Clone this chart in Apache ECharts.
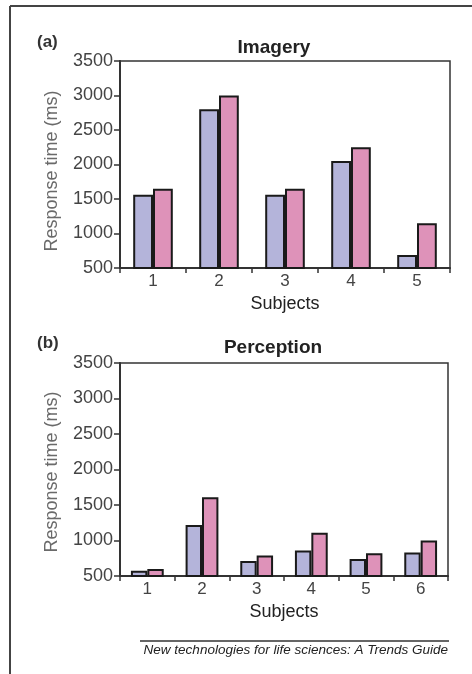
<!DOCTYPE html>
<html>
<head>
<meta charset="utf-8">
<script src="https://cdn.jsdelivr.net/npm/echarts@6/dist/echarts.min.js"></script>
<style>
html,body{margin:0;padding:0;background:#fff;}
#c{width:472px;height:674px;}
</style>
</head>
<body>
<div id="c"></div>
<script>
var subjectsA = ['1','2','3','4','5'];
var subjectsB = ['1','2','3','4','5','6'];
var imageryBlue = [1560, 2800, 1560, 2050, 690];
var imageryPink = [1650, 3000, 1650, 2250, 1150];
var perceptionBlue = [575, 1220, 710, 860, 740, 830];
var perceptionPink = [600, 1610, 790, 1110, 820, 1000];
var yTicks = [500, 1000, 1500, 2000, 2500, 3000, 3500];

var FONT = 'Liberation Sans, Arial, sans-serif';
var BLUE = '#b4b4da';
var PINK = '#de92b9';
var Y_NAME = 'Response time (ms)';

function yAxisCfg(gi) {
  return {
    type: 'value', gridIndex: gi,
    min: yTicks[0], max: yTicks[yTicks.length - 1], interval: yTicks[1] - yTicks[0],
    axisLine: {show: true, lineStyle: {color: '#333', width: 2}},
    axisTick: {show: true, length: 6, lineStyle: {color: '#333', width: 1.5}},
    axisLabel: {fontFamily: FONT, fontSize: 18, color: '#444', margin: 7,
      formatter: function (v) { return String(v); }},
    splitLine: {show: false}
  };
}
function xAxisCfg(gi, cats) {
  return {
    type: 'category', gridIndex: gi, data: cats,
    name: 'Subjects', nameLocation: 'middle', nameGap: 27,
    nameTextStyle: {fontFamily: FONT, fontSize: 18, color: '#222'},
    axisLine: {show: true, lineStyle: {color: '#333', width: 2}},
    axisTick: {show: true, length: 5, lineStyle: {color: '#333', width: 1.5}},
    axisLabel: {fontFamily: FONT, fontSize: 17, color: '#444', margin: 5}
  };
}
function barSeries(xi, data, color) {
  return {
    type: 'bar', xAxisIndex: xi, yAxisIndex: xi, data: data,
    barGap: '0%', barCategoryGap: '40%',
    itemStyle: {color: color, borderColor: '#1a1a1a', borderWidth: 2},
    silent: true, animation: false
  };
}

var chart = echarts.init(document.getElementById('c'), null, {renderer: 'canvas'});
chart.setOption({
  animation: false,
  backgroundColor: '#fff',
  grid: [
    {left: 120, top: 61, width: 330, height: 207, show: true, borderColor: '#333', borderWidth: 1.5, backgroundColor: 'transparent'},
    {left: 120, top: 363, width: 328, height: 213, show: true, borderColor: '#333', borderWidth: 1.5, backgroundColor: 'transparent'}
  ],
  title: [
    {text: 'Imagery', left: 269, top: 33, textAlign: 'center', textStyle: {fontFamily: FONT, fontSize: 19, fontWeight: 'bold', color: '#222'}},
    {text: 'Perception', left: 268, top: 333, textAlign: 'center', textStyle: {fontFamily: FONT, fontSize: 19, fontWeight: 'bold', color: '#222'}}
  ],
  xAxis: [xAxisCfg(0, subjectsA), xAxisCfg(1, subjectsB)],
  yAxis: [yAxisCfg(0), yAxisCfg(1)],
  series: [
    barSeries(0, imageryBlue, BLUE),
    barSeries(0, imageryPink, PINK),
    barSeries(1, perceptionBlue, BLUE),
    barSeries(1, perceptionPink, PINK)
  ],
  graphic: [
    {type: 'line', shape: {x1: 10, y1: 6, x2: 472, y2: 6}, style: {stroke: '#444', lineWidth: 2}},
    {type: 'line', shape: {x1: 10, y1: 6, x2: 10, y2: 674}, style: {stroke: '#444', lineWidth: 2}},
    {type: 'text', left: 37, top: 34, style: {text: '(a)', font: 'bold 17px ' + FONT, fill: '#333'}},
    {type: 'text', left: 37, top: 335, style: {text: '(b)', font: 'bold 17px ' + FONT, fill: '#333'}},
    {type: 'text', x: 52, y: 171, rotation: Math.PI / 2, style: {text: Y_NAME, font: '18px ' + FONT, fill: '#6a6a6a', textAlign: 'center', textVerticalAlign: 'middle'}},
    {type: 'text', x: 52, y: 472, rotation: Math.PI / 2, style: {text: Y_NAME, font: '18px ' + FONT, fill: '#6a6a6a', textAlign: 'center', textVerticalAlign: 'middle'}},
    {type: 'line', shape: {x1: 140, y1: 641, x2: 449, y2: 641}, style: {stroke: '#333', lineWidth: 1.5}},
    {type: 'text', right: 24, top: 643, style: {text: 'New technologies for life sciences: A Trends Guide', font: 'italic 13.5px ' + FONT, fill: '#222'}}
  ]
});
</script>
</body>
</html>
